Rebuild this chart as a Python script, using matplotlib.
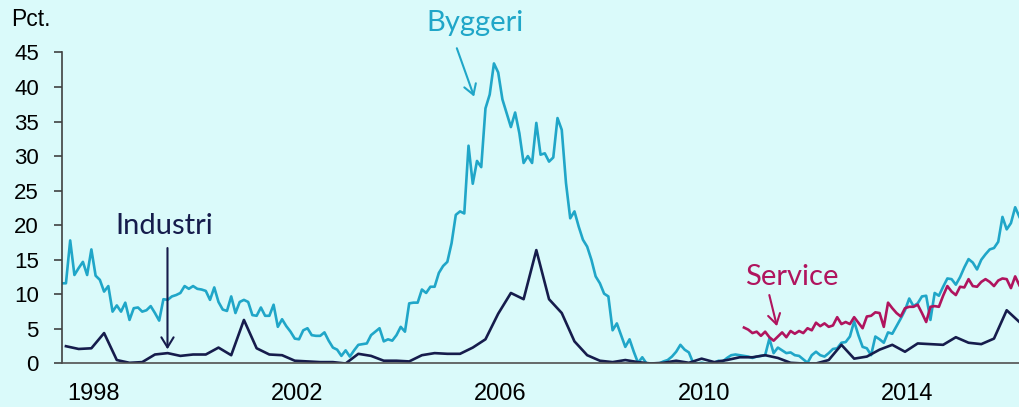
import numpy as np
import matplotlib.pyplot as plt

# monthly series, starting May 1997
byggeri = [11.6, 11.6, 17.8, 12.8, 13.8, 14.7, 12.8, 16.5, 12.7, 12.1,
           10.4, 11.2, 7.5, 8.4, 7.5, 8.8, 6.3, 8.0, 8.1, 7.5,
           7.7, 8.3, 7.3, 6.2, 9.3, 9.2, 9.7, 9.9, 10.2, 11.2,
           10.8, 11.2, 10.8, 10.7, 10.5, 9.2, 11.0, 8.9, 7.8, 7.6,
           9.7, 7.3, 8.9, 9.2, 8.9, 7.0,
           6.9, 8.1, 6.9, 6.9, 8.5, 5.3, 6.4, 5.4, 4.6, 3.6,
           3.5, 4.8, 5.1, 4.1, 4.0, 4.0, 4.5, 3.3, 2.3, 2.0,
           1.1, 1.9, 1.0, 1.9, 2.7, 2.8, 2.9, 4.1, 4.6, 5.1,
           3.2, 3.5, 3.3, 4.1, 5.3, 4.6, 8.7, 8.8, 8.8,
           10.7, 10.2, 11.1, 11.1, 13.1, 14.1, 14.7, 17.4, 21.5, 22.0,
           21.7, 31.5, 26.0, 29.3, 28.4, 36.9, 38.9, 43.4, 42.1, 38.2,
           36.2, 34.2, 36.3, 33.3, 29.0, 30.0, 29.0, 34.8, 30.2, 30.4,
           29.2, 29.8, 35.5, 33.8, 26.1, 21.0, 22.0, 19.8, 17.9, 16.9,
           15.0, 12.6, 11.6, 10.1, 9.7, 4.8, 5.8,
           4.1, 2.4, 3.5, 1.7, 0.1, 0.9, 0.0, 0.0, 0.0, 0.0,
           0.3, 0.5, 1.0, 1.7, 2.7, 2.0, 1.6, 0.1, 0.0, 0.1,
           0.0, 0.0, 0.1, 0.4, 0.3, 0.8, 1.2, 1.3, 1.2, 1.1,
           1.0, 0.8, 1.0, 1.1, 1.2, 3.6, 1.5, 2.3, 1.9, 1.5,
           1.6, 1.2, 1.1, 0.6, 0.1,
           1.2, 1.7, 1.2, 1.0, 1.5, 2.1, 2.2, 3.0, 3.1, 3.9,
           6.1, 4.1, 2.4, 2.2, 1.2, 3.9, 3.5, 3.0, 4.5, 4.3,
           5.4, 6.5, 7.7, 9.4, 8.3, 8.7, 9.7, 9.8, 6.3, 10.2,
           9.8, 11.1, 12.3, 12.2, 11.4, 12.5, 13.9, 15.1, 14.6, 13.6,
           15.0, 15.8, 16.5, 16.7, 17.6, 21.2, 19.4, 20.3, 22.6, 21.2]

# quarterly series
industri = [2.5, 2.1, 2.2, 4.4, 0.5, 0.1, 0.2, 1.3, 1.5, 1.1,
            1.3, 1.3, 2.3, 1.2, 6.3, 2.2, 1.3, 1.2, 0.4, 0.3,
            0.2, 0.2, 0.0, 1.4, 1.1, 0.4, 0.4, 0.3, 1.2, 1.5,
            1.4, 1.4, 2.3, 3.5, 7.2, 10.2, 9.3, 16.4, 9.3, 7.3,
            3.2, 1.2, 0.4, 0.2, 0.5, 0.2, 0.0, 0.1, 0.4, 0.1,
            0.7, 0.2, 0.5, 0.9, 0.9, 1.2, 0.8, 0.1, 0.0, 0.0,
            0.5, 2.7, 0.7, 1.0, 2.0, 2.7, 1.7, 2.9, 2.8, 2.7,
            3.8, 3.0, 2.8, 3.6, 7.7, 6.0]

# monthly, starts later (June 2010)
service = [5.2, 4.9, 4.4, 4.6, 4.0, 4.6, 3.8, 3.3, 3.9, 4.5,
           3.8, 4.7, 4.3, 4.7, 4.4, 5.1, 4.8, 5.9, 5.4, 5.8,
           5.3, 5.5, 6.7, 5.7, 6.0, 5.7, 6.7, 5.9, 5.1, 6.8,
           6.9, 7.4, 7.3, 5.3, 8.8, 8.0, 7.3, 6.8, 8.0, 8.2,
           8.2, 8.5, 7.3, 6.0, 8.2, 8.3, 8.2, 9.8, 11.2, 10.4,
           9.9, 11.1, 11.0, 12.2, 11.2, 11.1, 11.8, 12.2, 11.8, 11.2,
           12.0, 12.3, 12.2, 10.9, 12.6, 11.3]
service_start = 161

year_ticks = [1998, 2002, 2006, 2010, 2014]
y_ticks = [0, 5, 10, 15, 20, 25, 30, 35, 40, 45]

BG = '#dafafa'
C_BYG = '#20a6c8'
C_IND = '#161c4c'
C_SER = '#b0145e'

months = 1997 + (np.arange(len(byggeri)) + 4.5) / 12
quarters = months[1::3][:len(industri)]
serv_t = months[service_start:service_start + len(service)]

fig = plt.figure(figsize=(10.2, 4.07), dpi=100, facecolor=BG)
ax = fig.add_axes([0.0605, 0.1069, 0.9395, 0.7644], facecolor=BG)

ax.plot(months, byggeri, color=C_BYG, lw=1.9)
ax.plot(quarters, industri, color=C_IND, lw=1.9)
ax.plot(serv_t, service, color=C_SER, lw=1.9)

ax.set_xlim(1997.375, 2016.22)
ax.set_ylim(0, 45)
ax.set_yticks(y_ticks)
ax.set_xticks(year_ticks)
ax.set_xticklabels([str(y) for y in year_ticks])

for s in ['top', 'right']:
    ax.spines[s].set_visible(False)
ax.spines['left'].set_color('#404040')
ax.spines['bottom'].set_color('#505050')
ax.spines['left'].set_linewidth(1.2)
ax.spines['bottom'].set_linewidth(1.2)
ax.tick_params(axis='y', length=6, width=1.2, color='#404040', pad=10.5,
               labelsize=16, labelfontfamily='Liberation Sans')
ax.tick_params(axis='x', length=0, pad=14, labelsize=17,
               labelfontfamily='Liberation Sans')

fig.text(0.011, 1 - 20 / 407, 'Pct.', fontsize=16.5, family='Liberation Sans',
         va='center', ha='left')

# labels and arrows
lab = dict(family='Lato', fontsize=21, ha='center', va='center')
ax.text(2005.5, 49.3, 'Byggeri', color=C_BYG, clip_on=False, **lab)
ax.text(1999.39, 19.9, 'Industri', color=C_IND, **lab)
ax.text(2011.74, 12.45, 'Service', color=C_SER, **lab)

def arrow(tail, head, color):
    ax.annotate('', xy=head, xytext=tail, annotation_clip=False,
                arrowprops=dict(arrowstyle='->,head_length=0.36,head_width=0.22',
                                color=color, lw=1.5, shrinkA=0, shrinkB=0,
                                mutation_scale=20))

arrow((2005.145, 45.6), (2005.485, 38.6), C_BYG)
arrow((1999.455, 16.7), (1999.455, 2.05), C_IND)
arrow((2011.29, 9.9), (2011.44, 5.4), C_SER)

fig.savefig('out.png', dpi=100, facecolor=BG)
